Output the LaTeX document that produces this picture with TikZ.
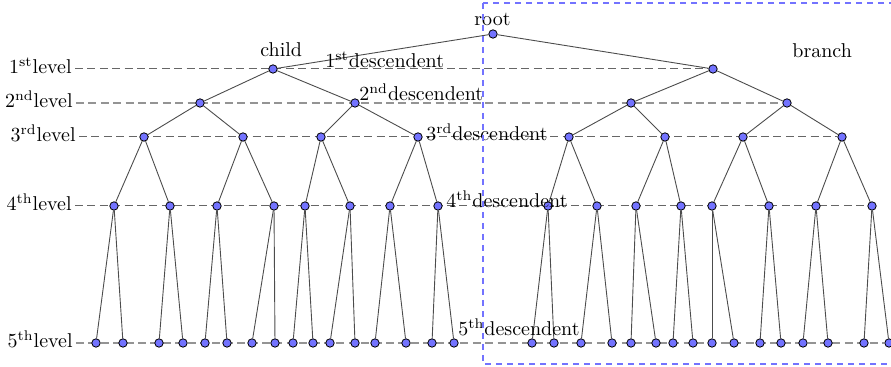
\documentclass[tikz,border=0pt]{standalone}
\usetikzlibrary{backgrounds}
\begin{document}
\begin{tikzpicture}[x=0.5pt,y=-0.5pt,
  dot/.style={circle,draw=black,line width=0.4pt,fill=blue!55!white,inner sep=0pt,minimum size=4.2pt},
  edge/.style={draw=black!70,line width=0.45pt},
  lvl/.style={draw=black!60,line width=0.5pt,dash pattern=on 4pt off 2.2pt},
  lvllight/.style={draw=black!42,line width=0.6pt,dash pattern=on 4pt off 2.2pt},
  txt/.style={inner sep=0pt,anchor=base west},
  levlab/.style={inner sep=1.5pt,anchor=mid east},
  boxline/.style={draw=blue!55!white,line width=0.55pt,dash pattern=on 3pt off 2.5pt}]
\useasboundingbox (0,0) rectangle (891,367);

% tree nodes
\node[dot] (r) at (493,34) {};
\foreach \x [count=\i] in {273,713} \node[dot] (a\i) at (\x,69) {};
\foreach \x [count=\i] in {200,355,631,787} \node[dot] (b\i) at (\x,103) {};
\foreach \x [count=\i] in {144,243,321,418,569,665,743,842} \node[dot] (c\i) at (\x,137) {};
\foreach \x [count=\i] in {114,170,217,274,305,350,390,438,548,597,636,681,712,769,816,872}
  \node[dot] (d\i) at (\x,206) {};
\foreach \x [count=\i] in {96,123,159,183,205,227,252,275,293,313,330,355,375,406,432,454,532,554,581,612,631,656,673,693,712,734,760,781,803,828,864,889}
  \node[dot] (e\i) at (\x,343) {};

% level labels
\node[levlab] (l1) at (75,69) {$1^{\mathrm{st}}$level};
\node[levlab] (l2) at (76,103) {$2^{\mathrm{nd}}$level};
\node[levlab] (l3) at (79,137) {$3^{\mathrm{rd}}$level};
\node[levlab] (l4) at (75,206) {$4^{\mathrm{th}}$level};
\node[levlab] (l5) at (76,343) {$5^{\mathrm{th}}$level};

% other texts
\node[txt] (troot) at (474,26) {root};
\node[txt] (tchild) at (260,57) {child};
\node[txt] (tbranch) at (792,58) {branch};
\node[txt] (t1) at (325,68) {$1^{\mathrm{st}}$descendent};
\node[txt] (t2) at (359,101) {$2^{\mathrm{nd}}$descendent};
\node[txt] (t3) at (426,141) {$3^{\mathrm{rd}}$descendent};
\node[txt] (t4) at (446,208) {$4^{\mathrm{th}}$descendent};
\node[txt] (t5) at (458,336) {$5^{\mathrm{th}}$descendent};

\begin{pgfonlayer}{background}
  \draw[lvl] (l1.mid east) -- (a2);
  \draw[lvllight] (l2.mid east) -- (b4);
  \draw[lvl] (l3.mid east) -- (c8);
  \draw[lvl] (l4.mid east) -- (d16);
  \draw[lvllight] (l5.mid east) -- (e32);
  \draw[edge] (r) -- (a1);
  \draw[edge] (r) -- (a2);
  \foreach \i in {1,...,4} {
    \pgfmathtruncatemacro\j{(\i+1)/2}
    \draw[edge] (a\j) -- (b\i);
  }
  \foreach \i in {1,...,8} {
    \pgfmathtruncatemacro\j{(\i+1)/2}
    \draw[edge] (b\j) -- (c\i);
  }
  \foreach \i in {1,...,16} {
    \pgfmathtruncatemacro\j{(\i+1)/2}
    \draw[edge] (c\j) -- (d\i);
  }
  \foreach \i in {1,...,32} {
    \pgfmathtruncatemacro\j{(\i+1)/2}
    \draw[edge] (d\j) -- (e\i);
  }
\end{pgfonlayer}

% branch box
\coordinate (bx1) at (483,3);
\coordinate (bx2) at (900,364);
\draw[boxline] (bx1) rectangle (bx2);
\end{tikzpicture}
\end{document}
